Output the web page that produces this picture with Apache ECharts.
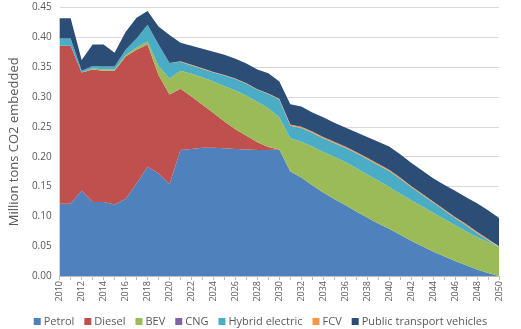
<!DOCTYPE html>
<html><head><meta charset="utf-8">
<script src="https://cdn.jsdelivr.net/npm/echarts@6/dist/echarts.min.js"></script>
<style>html,body{margin:0;padding:0;background:#fff}#c{width:521px;height:329px}</style>
</head><body><div id="c"></div>
<script>
var years = [];
for (var y = 2010; y <= 2050; y++) years.push(String(y));
var petrol = [0.121,0.121,0.143,0.124,0.124,0.120,0.129,0.155,0.183,0.172,0.154,0.211,0.213,0.215,0.215,0.214,0.213,0.212,0.211,0.211,0.212,0.175,0.165,0.152,0.140,0.129,0.119,0.108,0.098,0.088,0.079,0.069,0.059,0.050,0.041,0.033,0.025,0.018,0.011,0.005,0.000];
var diesel = [0.265,0.265,0.198,0.222,0.220,0.224,0.239,0.224,0.205,0.165,0.150,0.103,0.088,0.072,0.058,0.045,0.033,0.023,0.013,0.005,0,0,0,0,0,0,0,0,0,0,0,0,0,0,0,0,0,0,0,0,0];
var bev = [0,0,0,0.002,0.002,0.002,0.002,0.004,0.005,0.015,0.027,0.030,0.038,0.046,0.053,0.059,0.065,0.067,0.068,0.065,0.054,0.056,0.060,0.065,0.068,0.071,0.072,0.073,0.072,0.072,0.070,0.069,0.068,0.067,0.065,0.063,0.060,0.057,0.054,0.052,0.049];
var cng = [0,0,0,0,0,0,0,0,0,0,0,0,0,0,0,0,0,0,0,0,0,0,0,0,0,0,0,0,0,0,0,0,0,0,0,0,0,0,0,0,0];
var hybrid = [0.012,0.012,0.003,0.004,0.005,0.005,0.009,0.015,0.028,0.036,0.026,0.015,0.014,0.014,0.015,0.018,0.019,0.020,0.020,0.024,0.030,0.021,0.023,0.023,0.023,0.023,0.024,0.025,0.026,0.026,0.027,0.025,0.022,0.019,0.017,0.014,0.012,0.010,0.007,0.003,0.000];
var fcv = [0,0,0,0,0,0,0,0,0,0,0,0.001,0.001,0.001,0.001,0.001,0.001,0.001,0.001,0.001,0.001,0.002,0.002,0.002,0.002,0.002,0.002,0.002,0.002,0.002,0.002,0.002,0.002,0.002,0.002,0.002,0.002,0.002,0.002,0.002,0.001];
var publicTransport = [0.034,0.034,0.018,0.036,0.037,0.023,0.030,0.035,0.023,0.030,0.047,0.031,0.032,0.033,0.034,0.034,0.033,0.033,0.033,0.034,0.029,0.034,0.034,0.032,0.033,0.032,0.032,0.033,0.035,0.037,0.039,0.039,0.039,0.039,0.039,0.041,0.044,0.045,0.048,0.048,0.047];

var seriesNames = ['Petrol','Diesel','BEV','CNG','Hybrid electric','FCV','Public transport vehicles'];
var seriesData = [petrol, diesel, bev, cng, hybrid, fcv, publicTransport];
var colors = ['#4F81BD','#C0504D','#9BBB59','#8064A2','#4BACC6','#F79646','#2C4D75'];

var chart = echarts.init(document.getElementById('c'), null, {renderer:'canvas'});
chart.setOption({
  animation: false,
  color: colors,
  grid: {left: 59, right: 22, top: 7.5, bottom: 53, containLabel: false},
  legend: {
    bottom: -3, left: 'center', itemWidth: 7, itemHeight: 7, itemGap: 10,
    icon: 'rect',
    textStyle: {fontFamily: 'Open Sans, DejaVu Sans', fontSize: 11, color: '#595959', padding: [0,0,0,-2]},
    data: seriesNames
  },
  xAxis: {
    type: 'category', boundaryGap: false, data: years,
    axisLine: {lineStyle: {color: '#BFBFBF'}},
    axisTick: {show: true, interval: 0, length: 4, lineStyle: {color: '#BFBFBF'}},
    axisLabel: {interval: 1, rotate: 90, fontSize: 9, color: '#595959', fontFamily: 'Open Sans, DejaVu Sans', margin: 5}
  },
  yAxis: {
    type: 'value', min: 0, max: 0.45, interval: 0.05,
    name: 'Million tons CO2 embedded', nameLocation: 'middle', nameGap: 36,
    nameTextStyle: {fontSize: 13, color: '#595959', fontFamily: 'Open Sans, DejaVu Sans'},
    axisLine: {show: false}, axisTick: {show: false},
    axisLabel: {formatter: function(v){return v.toFixed(2);}, fontSize: 10, color: '#595959', fontFamily: 'Open Sans, DejaVu Sans', margin: 8},
    splitLine: {lineStyle: {color: '#D9D9D9'}}
  },
  series: seriesNames.map(function(n, i){
    return {
      name: n, type: 'line', stack: 'total', data: seriesData[i],
      symbol: 'none', lineStyle: {width: 0},
      areaStyle: {color: colors[i], opacity: 1},
      itemStyle: {color: colors[i]}
    };
  })
});
</script>
</body></html>
